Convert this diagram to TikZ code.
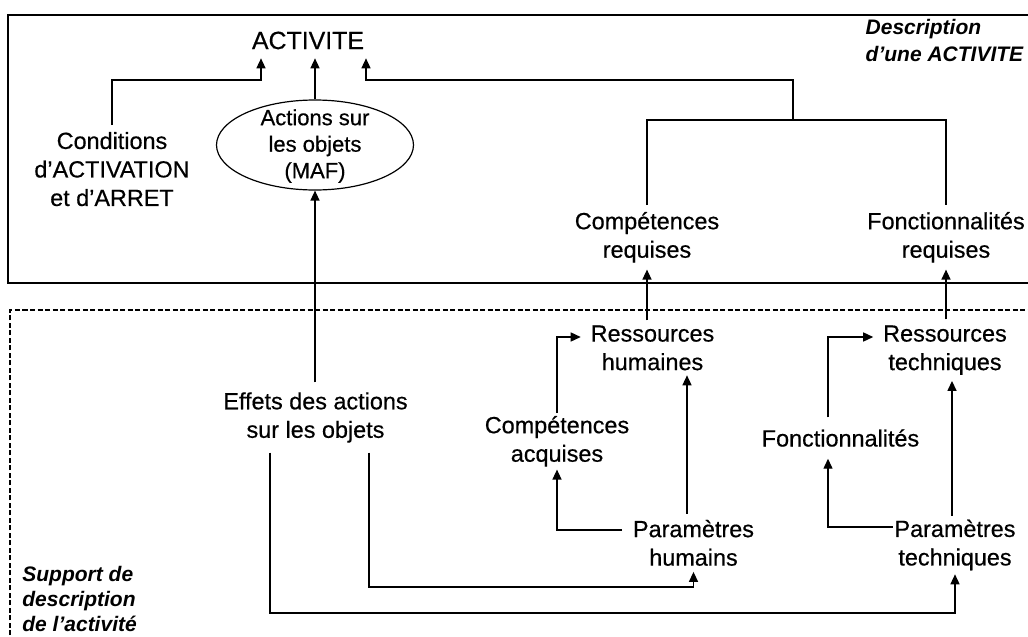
\documentclass[tikz,border=0pt]{standalone}
\usepackage{fontspec}
\setmainfont{Liberation Sans}
\newfontfamily\bodyfont{Liberation Sans}[FakeBold=0.5]
\usetikzlibrary{arrows.meta,shapes.geometric}
\begin{document}
\begin{tikzpicture}[x=1pt,y=-1pt, line width=1.4pt,
  arr/.style={-{Triangle[length=10pt,width=9pt]}},
  lbl/.style={align=center, inner sep=0pt, font=\bodyfont\fontsize{23.4}{28.5}\selectfont},
  ttl/.style={align=left, inner sep=0pt, font=\bfseries\itshape\fontsize{21}{26.7}\selectfont}]
\useasboundingbox (0,0) rectangle (1028,637);
\clip (0,0) rectangle (1028,637);
\fill[white] (0,0) rectangle (1028,637);
% frames
\draw (8,15) rectangle (1045,283);
\draw[dash pattern=on 5pt off 2.5pt, line width=1.1pt] (10,650) -- (10,310) -- (1045,310);
% nodes
\node[font=\bodyfont\fontsize{24.9}{29}\selectfont, inner sep=0pt, outer ysep=9pt] (act) at (308,40.5) {ACTIVITE};
\node[lbl, outer sep=7pt] (cond) at (112,169.1) {Conditions\\d’ACTIVATION\\et d’ARRET};
\node[ellipse, draw, line width=1.2pt, minimum width=197pt, minimum height=90pt, inner sep=0pt] (ell) at (315,145) {};
\node[align=center, inner sep=0pt, font=\bodyfont\fontsize{22}{26.5}\selectfont] (elltxt) at (315,146) {Actions sur\\les objets\\(MAF)};
\node[lbl, outer sep=7pt] (cr) at (647,237.3) {Compétences\\requises};
\node[lbl, outer sep=7pt] (fr) at (946,237.3) {Fonctionnalités\\requises};
\node[lbl, outer ysep=5pt, outer xsep=10pt] (rh) at (652.5,347.9) {Ressources\\humaines};
\node[lbl, outer ysep=6pt, outer xsep=10pt] (rt) at (945,350.2) {Ressources\\techniques};
\node[lbl, outer sep=3pt] (ca) at (557,441.3) {Compétences\\acquises};
\node[lbl, outer sep=12pt] (fo) at (840.5,438) {Fonctionnalités};
\node[lbl, outer ysep=6pt, outer xsep=11pt] (ph) at (693.5,542.9) {Paramètres\\humains};
\node[lbl, outer ysep=4pt, outer xsep=2pt] (pt) at (955,545) {Paramètres\\techniques};
\node[lbl, outer sep=10pt] (eff) at (315.5,417.5) {Effets des actions\\sur les objets};
\node[ttl, anchor=west] (desc) at (865,40.7) {Description\\d’une ACTIVITE};
\node[ttl, anchor=west, font=\bfseries\itshape\fontsize{21}{25}\selectfont] (supp) at (21.7,599) {Support de\\description\\de l’activité};
% connectors
\draw[arr] (cond.north) |- (261,80) -- (261,0 |- act.south);
\draw[arr] (ell.north) -- (ell.north |- act.south);
\coordinate (jb) at (793,120);
\draw (cr.north) |- (jb) -| (fr.north);
\draw[arr] (jb) |- (366,80) -- (366,0 |- act.south);
\draw[arr] (cr.south |- rh.north) -- (cr.south);
\draw[arr] (fr.south |- rt.north) -- (fr.south);
\draw[arr] (ca.north) |- (0,337 -| rh.west);
\draw[arr] (0,530 -| ph.west) -| (ca.south);
\draw[arr] (687,0 |- ph.north) -- (687,0 |- rh.south);
\draw[arr] (828,0 |- fo.north) |- (0,337 -| rt.west);
\draw[arr] (0,527 -| pt.west) -| (828,0 |- fo.south);
\draw[arr] (952,0 |- pt.north) -- (952,0 |- rt.south);
\draw[arr] (ell.south |- eff.north) -- (ell.south);
\draw[arr] (369,0 |- eff.south) |- (ph.south |- 0,587) -- (ph.south);
\draw[arr] (270,0 |- eff.south) |- (pt.south |- 0,613) -- (pt.south);
\end{tikzpicture}
\end{document}
